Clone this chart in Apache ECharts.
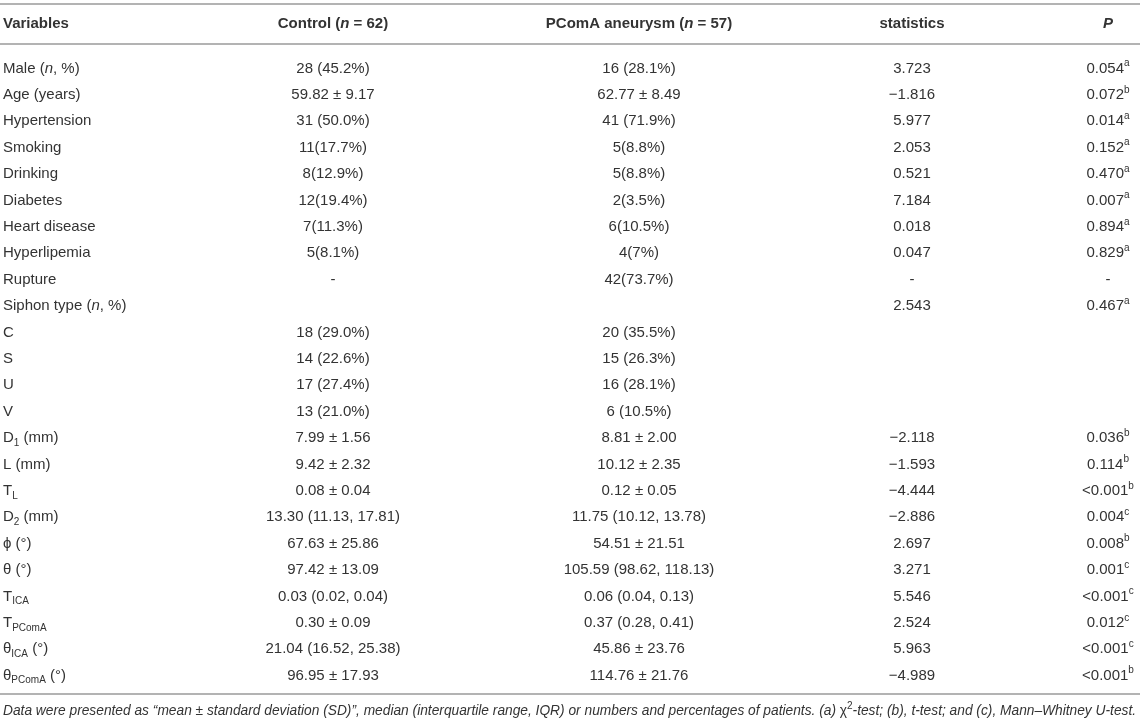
<!DOCTYPE html>
<html>
<head>
<meta charset="utf-8">
<script src="https://cdn.jsdelivr.net/npm/echarts@6/dist/echarts.min.js"></script>
<style>
html,body{margin:0;padding:0;background:#fff;}
#chart{width:1143px;height:725px;}
</style>
</head>
<body>
<div id="chart"></div>
<script>
// ---------- data ----------
const headers = ['Variables', 'Control ({bi|n} = 62)', 'PComA aneurysm ({bi|n} = 57)', 'statistics', '{bi|P}'];

const variables = ['Male ({i|n}, %)', 'Age (years)', 'Hypertension', 'Smoking', 'Drinking', 'Diabetes',
  'Heart disease', 'Hyperlipemia', 'Rupture', 'Siphon type ({i|n}, %)', 'C', 'S', 'U', 'V',
  'D{sub|1} (mm)', 'L (mm)', 'T{sub|L}', 'D{sub|2} (mm)', 'ϕ (°)', 'θ (°)', 'T{sub|ICA}', 'T{sub|PComA}',
  'θ{sub|ICA} (°)', 'θ{sub|PComA} (°)'];

const control = ['28 (45.2%)', '59.82 ± 9.17', '31 (50.0%)', '11(17.7%)', '8(12.9%)', '12(19.4%)',
  '7(11.3%)', '5(8.1%)', '-', '', '18 (29.0%)', '14 (22.6%)', '17 (27.4%)', '13 (21.0%)',
  '7.99 ± 1.56', '9.42 ± 2.32', '0.08 ± 0.04', '13.30 (11.13, 17.81)', '67.63 ± 25.86', '97.42 ± 13.09',
  '0.03 (0.02, 0.04)', '0.30 ± 0.09', '21.04 (16.52, 25.38)', '96.95 ± 17.93'];

const pcoma = ['16 (28.1%)', '62.77 ± 8.49', '41 (71.9%)', '5(8.8%)', '5(8.8%)', '2(3.5%)',
  '6(10.5%)', '4(7%)', '42(73.7%)', '', '20 (35.5%)', '15 (26.3%)', '16 (28.1%)', '6 (10.5%)',
  '8.81 ± 2.00', '10.12 ± 2.35', '0.12 ± 0.05', '11.75 (10.12, 13.78)', '54.51 ± 21.51', '105.59 (98.62, 118.13)',
  '0.06 (0.04, 0.13)', '0.37 (0.28, 0.41)', '45.86 ± 23.76', '114.76 ± 21.76'];

const statistics = ['3.723', '−1.816', '5.977', '2.053', '0.521', '7.184', '0.018', '0.047', '-', '2.543',
  '', '', '', '', '−2.118', '−1.593', '−4.444', '−2.886', '2.697', '3.271', '5.546', '2.524', '5.963', '−4.989'];

const pValues = ['0.054', '0.072', '0.014', '0.152', '0.470', '0.007', '0.894', '0.829', '-', '0.467',
  '', '', '', '', '0.036', '0.114', '<0.001', '0.004', '0.008', '0.001', '<0.001', '0.012', '<0.001', '<0.001'];

const pTests = ['a', 'b', 'a', 'a', 'a', 'a', 'a', 'a', '', 'a',
  '', '', '', '', 'b', 'b', 'b', 'c', 'b', 'c', 'c', 'c', 'c', 'b'];

const footnote = 'Data were presented as “mean ± standard deviation (SD)”, median (interquartile range, IQR) or numbers and percentages of patients. (a) {up|χ}{sup|2}-test; (b), t-test; and (c), Mann–Whitney U-test.';

// ---------- layout ----------
const FONT = '"Liberation Sans", Arial, Helvetica, sans-serif';
const TEXT = '#333333';
const RULE = '#b3b3b3';
const ROW_TOP = 68.5, ROW_STEP = 26.4;
const pxToRow = px => (px - ROW_TOP) / ROW_STEP;
const Y_MIN = pxToRow(0), Y_MAX = pxToRow(725);
const COLS = [
  {x: 3, align: 'left'},
  {x: 333, align: 'center'},
  {x: 639, align: 'center'},
  {x: 912, align: 'center'},
  {x: 1108, align: 'center'}
];
const HEADER_ROW = pxToRow(24);
const RULE_ROWS = [pxToRow(3.5), pxToRow(43.3), pxToRow(694)];
const FOOT_ROW = pxToRow(711.5);
const FOOT_SIZE = 13.75;

function rich(size, weight) {
  const base = {fontFamily: FONT, fill: TEXT};
  return {
    i: Object.assign({}, base, {fontSize: size, fontStyle: 'italic', fontWeight: weight, lineHeight: 20}),
    bi: Object.assign({}, base, {fontSize: size, fontStyle: 'italic', fontWeight: 'bold', lineHeight: 20}),
    up: Object.assign({}, base, {fontSize: size, fontStyle: 'normal', lineHeight: 20}),
    sub: Object.assign({}, base, {fontSize: 10, lineHeight: 10, verticalAlign: 'bottom'}),
    sup: Object.assign({}, base, {fontSize: 10, lineHeight: 11, verticalAlign: 'top'})
  };
}

function cellText(text, x, y, align, size, weight, style) {
  return {
    type: 'text',
    style: {
      text: text, x: x, y: y, align: align, verticalAlign: 'middle',
      fontFamily: FONT, fontSize: size, fontWeight: weight || 'normal', fontStyle: style || 'normal',
      fill: TEXT, lineHeight: 20, rich: rich(size, weight || 'normal')
    }
  };
}

const chart = echarts.init(document.getElementById('chart'), null, {renderer: 'canvas'});
chart.setOption({
  animation: false,
  backgroundColor: '#ffffff',
  grid: {left: 0, right: 3, top: 0, bottom: 0},
  xAxis: {type: 'value', min: 0, max: 1140, show: false},
  yAxis: {type: 'value', min: Y_MIN, max: Y_MAX, inverse: true, show: false},
  series: [
    {
      type: 'custom',
      name: 'header',
      data: headers.map((h, c) => [c, HEADER_ROW]),
      renderItem: function (params, api) {
        const c = api.value(0);
        const pt = api.coord([COLS[c].x, api.value(1)]);
        return cellText(headers[c], pt[0], pt[1], COLS[c].align, 15, 'bold');
      },
      markLine: {
        silent: true,
        symbol: ['none', 'none'],
        label: {show: false},
        lineStyle: {color: RULE, width: 2, type: 'solid'},
        data: RULE_ROWS.map(r => ({yAxis: r}))
      }
    },
    {
      type: 'custom',
      name: 'rows',
      data: variables.map((v, i) => [0, i]),
      renderItem: function (params, api) {
        const i = api.value(1);
        const cells = [variables[i], control[i], pcoma[i], statistics[i],
          pValues[i] + (pTests[i] ? '{sup|' + pTests[i] + '}' : '')];
        return {
          type: 'group',
          children: cells.map((t, c) => {
            const pt = api.coord([COLS[c].x, i]);
            return cellText(t, pt[0], pt[1], COLS[c].align, 15, 'normal');
          })
        };
      }
    },
    {
      type: 'custom',
      name: 'footnote',
      data: [[0, FOOT_ROW]],
      renderItem: function (params, api) {
        const pt = api.coord([COLS[0].x, api.value(1)]);
        return cellText(footnote, pt[0], pt[1], 'left', FOOT_SIZE, 'normal', 'italic');
      }
    }
  ]
});
</script>
</body>
</html>
